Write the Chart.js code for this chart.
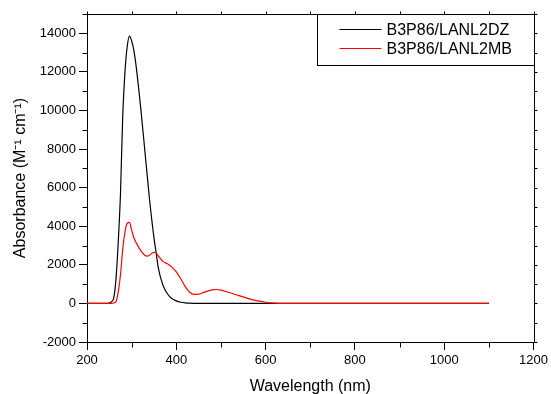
<!DOCTYPE html>
<html>
<head>
<meta charset="utf-8">
<script src="https://cdn.jsdelivr.net/npm/chart.js@4/dist/chart.umd.min.js"></script>
<style>
  html, body { margin: 0; padding: 0; background: #fff; }
  canvas { display: block; }
</style>
</head>
<body>
<canvas id="spec" width="551" height="394"></canvas>
<script>
// wavelengths (nm)
const wavelengths = [200, 240, 250, 255, 260, 265, 270, 275, 280, 285, 290, 295, 300, 305, 310,
  320, 330, 335, 340, 350, 355, 360, 370, 380, 390, 400, 410, 420, 430, 440, 450, 460, 470,
  480, 490, 500, 520, 540, 560, 580, 600, 620, 650, 700, 800, 900, 1000, 1100];

const lanl2dz = [0, 0, 20, 90, 300, 1300, 3200, 5700, 9700, 12000, 13300, 13850, 13600, 13100, 12300,
  10200, 7800, 6600, 5400, 3400, 2600, 1800, 950, 500, 250, 130, 60, 25, 10, 3, 0, 0, 0,
  0, 0, 0, 0, 0, 0, 0, 0, 0, 0, 0, 0, 0, 0, 0];

const lanl2mb = [0, 0, 0, 0, 20, 100, 600, 1500, 2800, 3700, 4150, 4200, 3800, 3400, 3150,
  2750, 2480, 2450, 2500, 2650, 2620, 2450, 2180, 2050, 1880, 1630, 1280, 870, 580, 470, 480, 560, 640,
  700, 720, 690, 550, 400, 260, 140, 60, 20, 5, 0, 0, 0, 0, 0];

const seriesNames = ["B3P86/LANL2DZ", "B3P86/LANL2MB"];
const seriesColors = ["#000000", "#ff0000"];

const xTicks = [200, 400, 600, 800, 1000, 1200];
const yTicks = [-2000, 0, 2000, 4000, 6000, 8000, 10000, 12000, 14000];

const X_MIN = 200, X_MAX = 1200, X_MINOR = 100;
const Y_MIN = -2000, Y_MAX = 15000, Y_MINOR = 1000;

const FONT = "'Liberation Sans', Arial, Helvetica, sans-serif";
Chart.defaults.font.family = FONT;
Chart.defaults.color = "#000";

function pts(vals) {
  return wavelengths.map((w, i) => ({ x: w, y: vals[i] }));
}

// minor ticks, mirrored top/right ticks and the closing frame
const frame = {
  id: "frame",
  afterDraw(chart) {
    const { ctx, chartArea: a, scales } = chart;
    const sx = scales.x, sy = scales.y;
    ctx.save();
    ctx.strokeStyle = "#000";
    ctx.lineWidth = 1;
    ctx.beginPath();
    const top = Math.round(a.top) + 0.5, right = Math.round(a.right) + 0.5;
    const bottom = Math.round(a.bottom) + 0.5, left = Math.round(a.left) + 0.5;
    ctx.moveTo(left, top); ctx.lineTo(right, top); ctx.lineTo(right, bottom);
    for (let v = X_MIN; v <= X_MAX; v += X_MINOR) {
      const px = Math.round(sx.getPixelForValue(v)) + 0.5;
      ctx.moveTo(px, top); ctx.lineTo(px, top - 3);
      if (!xTicks.includes(v)) { ctx.moveTo(px, bottom); ctx.lineTo(px, bottom + 5); }
    }
    for (let v = Y_MIN; v <= Y_MAX; v += Y_MINOR) {
      const py = Math.round(sy.getPixelForValue(v)) + 0.5;
      ctx.moveTo(right, py); ctx.lineTo(right + 3, py);
      if (!yTicks.includes(v)) { ctx.moveTo(left, py); ctx.lineTo(left - 5, py); }
    }
    ctx.stroke();
    ctx.restore();
  },
};

// boxed legend in the top-right corner of the plot
const boxLegend = {
  id: "boxLegend",
  afterDraw(chart) {
    const { ctx, chartArea: a } = chart;
    const w = 217, h = 51;
    const x0 = Math.round(a.right - w) + 0.5, y0 = Math.round(a.top) + 0.5;
    ctx.save();
    ctx.fillStyle = "#fff";
    ctx.fillRect(x0, y0, w, h);
    ctx.strokeStyle = "#000";
    ctx.lineWidth = 1;
    ctx.strokeRect(x0, y0, w, h);
    ctx.font = "16px " + FONT;
    ctx.textBaseline = "middle";
    chart.data.datasets.forEach((ds, i) => {
      const y = y0 + 15 + i * 19;
      ctx.strokeStyle = ds.borderColor;
      ctx.lineWidth = 1.2;
      ctx.beginPath();
      ctx.moveTo(x0 + 22, y);
      ctx.lineTo(x0 + 64, y);
      ctx.stroke();
      ctx.fillStyle = "#000";
      ctx.fillText(ds.label, x0 + 69, y + 1);
    });
    ctx.restore();
  },
};

new Chart(document.getElementById("spec"), {
  type: "line",
  data: {
    datasets: [
      { label: seriesNames[0], data: pts(lanl2dz), borderColor: seriesColors[0], order: 1 },
      { label: seriesNames[1], data: pts(lanl2mb), borderColor: seriesColors[1], order: 0 },
    ],
  },
  options: {
    responsive: false,
    animation: false,
    devicePixelRatio: 1,
    layout: { padding: { left: 0, top: 14, right: 15, bottom: 0 } },
    elements: {
      point: { radius: 0 },
      line: { borderWidth: 1.2, cubicInterpolationMode: "monotone", fill: false },
    },
    plugins: {
      legend: { display: false },
      tooltip: { enabled: false },
    },
    scales: {
      x: {
        type: "linear",
        min: X_MIN,
        max: X_MAX,
        afterFit: (s) => { s.height = 52; },
        afterBuildTicks: (s) => { s.ticks = xTicks.map((v) => ({ value: v })); },
        ticks: { font: { size: 13 }, color: "#000", padding: 3, maxRotation: 0, autoSkip: false,
          callback: (v) => String(v) },
        grid: { drawOnChartArea: false, tickLength: 8, tickColor: "#000" },
        border: { color: "#000", width: 1 },
        title: { display: true, text: "Wavelength (nm)", font: { size: 16 }, color: "#000", padding: { top: 0, bottom: -2 } },
      },
      y: {
        min: Y_MIN,
        max: Y_MAX,
        afterFit: (s) => { s.width = 87; },
        afterBuildTicks: (s) => { s.ticks = yTicks.map((v) => ({ value: v })); },
        ticks: { font: { size: 13 }, color: "#000", padding: 3, autoSkip: false,
          callback: (v) => String(v) },
        grid: { drawOnChartArea: false, tickLength: 8, tickColor: "#000" },
        border: { color: "#000", width: 1 },
        title: { display: true, text: "Absorbance (M\u207B\u00B9 cm\u207B\u00B9)", font: { size: 16 }, color: "#000", padding: { top: 11, bottom: 0 } },
      },
    },
  },
  plugins: [frame, boxLegend],
});
</script>
</body>
</html>
